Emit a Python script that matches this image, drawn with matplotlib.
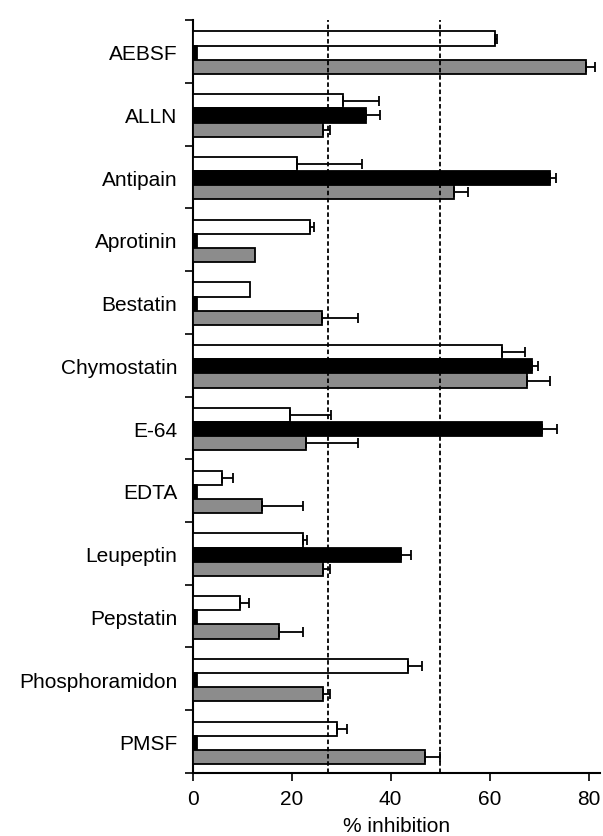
#! /usr/bin/env python3

import numpy as np
import matplotlib
matplotlib.use("Agg")
import matplotlib.pyplot as plt

inhibitors = ["AEBSF", "ALLN", "Antipain", "Aprotinin", "Bestatin",
              "Chymostatin", "E-64", "EDTA", "Leupeptin", "Pepstatin",
              "Phosphoramidon", "PMSF"]

# mean % inhibition, three series per inhibitor (white, black, gray)
white = [61.1, 30.4, 21.0, 23.8, 11.6, 62.5, 19.7, 6.0, 22.2, 9.6, 43.6, 29.1]
black = [0.9, 35.0, 72.2, 0.9, 0.9, 68.6, 70.5, 0.9, 42.1, 0.9, 0.9, 0.9]
gray = [79.5, 26.4, 52.9, 12.6, 26.1, 67.5, 22.9, 14.1, 26.4, 17.4, 26.4, 46.9]

# upper error (one-sided)
white_err = [0.4, 7.3, 13.3, 0.7, 0.0, 4.6, 8.2, 2.2, 0.8, 1.8, 2.7, 2.1]
black_err = [0.0, 2.8, 1.3, 0.0, 0.0, 1.2, 3.2, 0.0, 2.1, 0.0, 0.0, 0.0]
gray_err = [1.8, 1.3, 2.8, 0.0, 7.2, 4.7, 10.6, 8.1, 1.3, 4.9, 1.3, 3.1]

thresholds = [27.3, 50]

plt.rcParams['font.family'] = ['Liberation Sans', 'DejaVu Sans']

fig = plt.figure(figsize=(6.03, 8.36), dpi=100)
ax = fig.add_axes([0.3196, 0.0754, 0.6754, 0.9006])

n = len(inhibitors)
centers = np.arange(n) + 0.52
h = 0.226

series = [(white, white_err, "white", -h),
          (black, black_err, "black", 0.0),
          (gray, gray_err, "#8c8c8c", h)]

for vals, errs, color, off in series:
    y = centers + off
    ax.barh(y, vals, height=h, color=color, edgecolor="black",
            linewidth=1.3, zorder=3)
    vals = np.array(vals)
    errs = np.array(errs)
    keep = errs > 0
    ax.errorbar(vals[keep], y[keep], xerr=[np.zeros(keep.sum()), errs[keep]],
                fmt="none", ecolor="black", elinewidth=1.3, capsize=3.5,
                capthick=1.3, zorder=4)

for t in thresholds:
    ax.axvline(t, color="black", linestyle=(0, (2.5, 1.5)), linewidth=1.3,
               zorder=5)

ax.set_xlim(0, 82.3)
ax.set_ylim(n, 0)

ax.set_yticks(np.arange(n + 1))
ax.set_yticklabels([])
ax.set_yticks(centers, labels=inhibitors, minor=True)
ax.tick_params(axis="y", which="minor", length=0, pad=11, labelsize=15)
ax.tick_params(axis="y", which="major", length=6, width=1.2, direction="out")

ax.set_xticks([0, 20, 40, 60, 80])
ax.tick_params(axis="x", length=6, width=1.2, labelsize=15, pad=6)
ax.set_xlabel("% inhibition", fontsize=15, labelpad=6)

for side in ["top", "right"]:
    ax.spines[side].set_visible(False)
for side in ["left", "bottom"]:
    ax.spines[side].set_linewidth(1.5)

fig.savefig("out.png", dpi=100)
